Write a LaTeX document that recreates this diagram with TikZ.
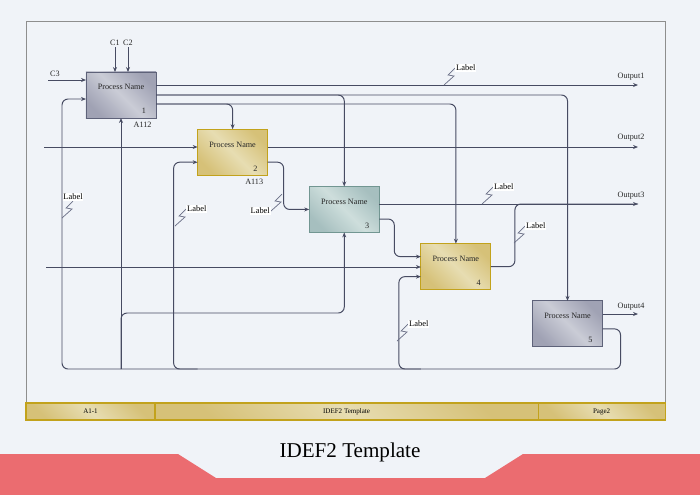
\documentclass[tikz,border=0pt]{standalone}
\usepackage{fontspec}
\setmainfont{Liberation Serif}
\usetikzlibrary{positioning,arrows.meta}
\definecolor{bgc}{HTML}{F0F3F8}
\definecolor{wirec}{HTML}{474B62}
\definecolor{boltc}{HTML}{6A6E86}
\definecolor{framec}{HTML}{8E8E8E}
\definecolor{bandc}{HTML}{EB6C70}
\definecolor{graydk}{HTML}{A0A2B4}
\definecolor{graylt}{HTML}{CACCD6}
\definecolor{grayedge}{HTML}{5E6279}
\definecolor{golddk}{HTML}{D6C178}
\definecolor{goldlt}{HTML}{E7DDB2}
\definecolor{goldedge}{HTML}{C2A21C}
\definecolor{tealdk}{HTML}{A6BFBF}
\definecolor{teallt}{HTML}{CEDEDC}
\definecolor{tealedge}{HTML}{729692}
\tikzset{
  proc/.style={draw=#1edge, line width=0.6pt, minimum width=1.75cm, minimum height=1.15cm,
    inner sep=0pt, outer sep=0pt, left color=#1dk, right color=#1dk, middle color=#1lt, shading angle=135},
  cell/.style={draw=goldedge, line width=0.8pt, minimum height=0.425cm, inner sep=0pt, outer sep=0pt,
    left color=golddk, right color=golddk, middle color=goldlt, shading angle=135,
    font=\fontsize{5}{6}\selectfont},
  ptext/.style={font=\fontsize{5.8}{7}\selectfont, text=black!85, inner sep=1pt},
  tag/.style={font=\fontsize{6}{7}\selectfont, fill=white, inner sep=0.6pt},
  wire/.style={draw=wirec, line width=0.7pt},
  flow/.style={wire, -{Stealth[length=3.5pt,width=2.8pt]}},
  bolt/.style={draw=boltc, line width=0.5pt},
  rc/.style={rounded corners=0.15cm}
}
\begin{document}
\begin{tikzpicture}[x=0.025cm, y=-0.025cm]
\fill[bgc] (0,0) rectangle (700,495);
\useasboundingbox (0,0) rectangle (700,495);
\draw[framec, line width=0.7pt] (26,21) rectangle (665,403);
\fill[bandc] (0,454) -- (178,454) -- (216,478) -- (485,478) -- (523,454) -- (700,454) -- (700,495) -- (0,495) -- cycle;
\node[font=\fontsize{15}{18}\selectfont] (title) at (350,452) {IDEF2 Template};

\node[cell, minimum width=3.225cm, anchor=north west] (f1) at (26,403) {A1-1};
\node[cell, minimum width=9.575cm, right=0pt of f1] (f2) {IDEF2 Template};
\node[cell, minimum width=3.175cm, right=0pt of f2] (f3) {Page2};

\node[proc=gray] (p1) at (121,95) {};
\node[proc=gold, below right=0.28cm and 1.04cm of p1] (p2) {};
\node[proc=teal, below right=0.28cm and 1.04cm of p2] (p3) {};
\node[proc=gold, below right=0.28cm and 1.04cm of p3] (p4) {};
\node[proc=gray, below right=0.28cm and 1.04cm of p4] (p5) {};
\foreach \p in {1,...,5}{
  \node[ptext, below=0.27cm of p\p.north] (n\p) {Process Name};
  \node[ptext, above left=0.06cm and 0.21cm of p\p.south east] (k\p) {\p};
}
\node[ptext, below left=0.05cm and 0.07cm of p1.south east] (a1) {A112};
\node[ptext, below left=0.05cm and 0.07cm of p2.south east] (a2) {A113};

\node[ptext] (t1) at (115,43) {C1};
\node[ptext] (t2) at (128,43) {C2};
\node[ptext] (t3) at (55,74) {C3};
\coordinate (c3) at (48,80);
\coordinate (i1) at (44,147);
\coordinate (i2) at (46,267);
\coordinate (b) at (62,369);
\coordinate (o1) at (638,85);
\coordinate (o2) at (638,147);
\coordinate (o3) at (638,204);
\coordinate (o4) at (638,314);
\node[ptext] (u1) at (631,77) {Output1};
\node[ptext] (u2) at (631,138) {Output2};
\node[ptext] (u3) at (631,196) {Output3};
\node[ptext] (u4) at (631,307) {Output4};

\draw[flow] (t1) -- (t1 |- p1.north);
\draw[flow] (t2) -- (t2 |- p1.north);
\draw[flow] (c3) -- (c3 -| p1.west);
\draw[flow] (o1 -| p1.east) -- (o1);
\draw[flow, rc] (p1.east) -| (p3.north);
\draw[flow, rc] (p1.east) -| (p5.north);
\draw[flow, rc] ([yshift=-0.225cm]p1.east) -| (p2.north);
\draw[flow, rc] ([yshift=-0.225cm]p1.east) -| (p4.north);
\draw[flow] (i1) -- (i1 -| p2.west);
\draw[flow] (i1 -| p2.east) -- (o2);
\draw[flow, rc] ([yshift=-0.25cm]p2.east) -- ++(16,0) |- (p3.west);
\draw[flow] (o3 -| p3.east) -- (o3);
\draw[flow, rc] ([yshift=-0.24cm]p3.east) -- ++(15,0) |- ([yshift=0.25cm]p4.west);
\draw[flow] (i2) -- (i2 -| p4.west);
\draw[wire, rc] (p4.east) -- ++(24,0) |- (o3);
\draw[flow] (o4 -| p5.east) -- (o4);
\draw[flow, rc] ([yshift=-0.125cm]p5.east) -- ++(18,0) |- (b) |- ([yshift=-0.1cm]p1.west);
\draw[flow] (p1.south |- b) -- (p1.south);
\draw[flow, rc] (p1.south |- b) |- (p3.south |- 0,313) -- (p3.south);
\draw[flow, rc] (b -| p2.west) -| ([xshift=-0.6cm, yshift=-0.25cm]p2.west) -- ([yshift=-0.25cm]p2.west);
\draw[flow, rc] (b -| p4.west) -| ([xshift=-0.55cm, yshift=-0.25cm]p4.west) -- ([yshift=-0.25cm]p4.west);

\draw[bolt] (444,85) -- ++(10,-9) -- ++(-6,-1) -- ++(7,-7) node[tag, anchor=west] (g1) {Label};
\draw[bolt] (482,204) -- ++(10,-9) -- ++(-6,-1) -- ++(7,-7) node[tag, anchor=west] (g2) {Label};
\draw[bolt] (514,243) -- ++(10,-9) -- ++(-6,-1) -- ++(7,-7) node[tag, anchor=west] (g3) {Label};
\draw[bolt] (62,218) -- ++(10,-9) -- ++(-6,-1) -- ++(7,-7) node[tag, anchor=south] (g4) {Label};
\draw[bolt] (175,226) -- ++(10,-9) -- ++(-6,-1) -- ++(7,-7) node[tag, anchor=west] (g5) {Label};
\draw[bolt] (397,341) -- ++(10,-9) -- ++(-6,-1) -- ++(7,-7) node[tag, anchor=west] (g6) {Label};
\draw[bolt] (282,194) -- ++(-7,7) -- ++(6,1) -- ++(-10,9) node[tag, anchor=east] (g7) {Label};
\end{tikzpicture}
\end{document}
